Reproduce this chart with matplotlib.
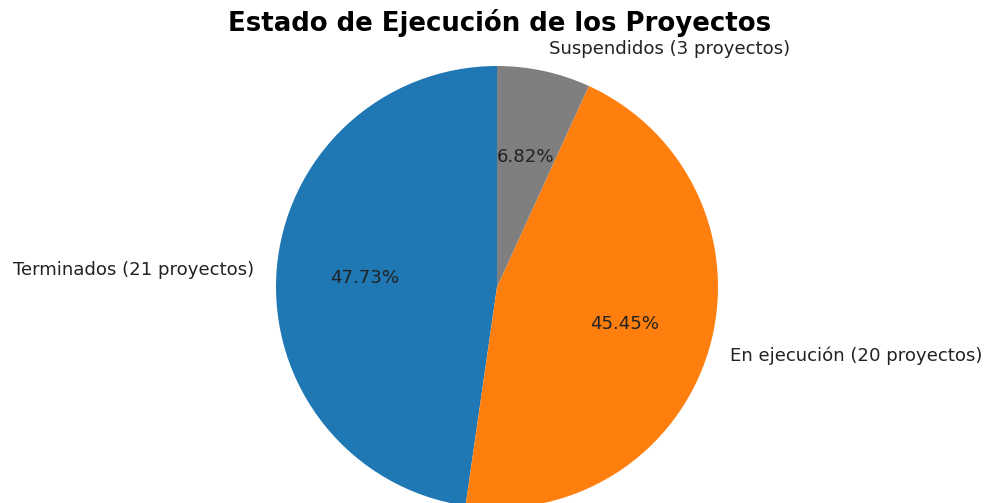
import matplotlib.pyplot as plt

estados = ['Terminados', 'En ejecución', 'Suspendidos']
proyectos = [21, 20, 3]
colores = ['#1f77b4', '#ff7f0e', '#7f7f7f']

etiquetas = [f'{e} ({n} proyectos)' for e, n in zip(estados, proyectos)]

fig = plt.figure(figsize=(9.89, 5.03), dpi=100)
# pie centre ~ (497, 287) px, radius ~221 px
cx, cy, r = 497, 287, 221
ax = fig.add_axes([(cx - r)/989, (503 - cy - r)/503, 2*r/989, 2*r/503])
ax.pie(proyectos, labels=etiquetas, colors=colores, autopct='%1.2f%%',
       startangle=90, textprops={'fontsize': 13.1, 'color': '#222222'})
ax.set_xlim(-1, 1)
ax.set_ylim(-1, 1)
ax.set_aspect('equal')

fig.text(0.505, 0.955, 'Estado de Ejecución de los Proyectos', ha='center', va='center',
         fontsize=18.7, fontweight='bold')

fig.savefig('out.png', dpi=100)
